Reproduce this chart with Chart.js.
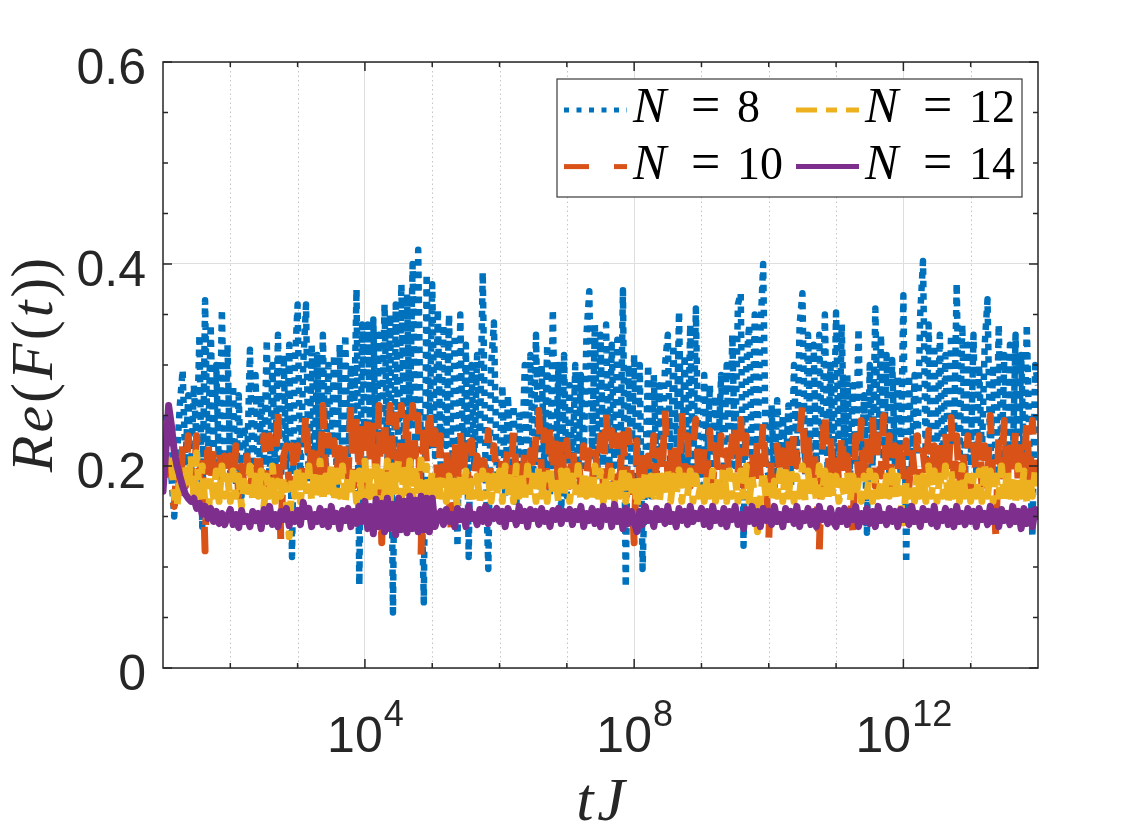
<!DOCTYPE html>
<html>
<head>
<meta charset="utf-8">
<title>Re(F(t)) vs tJ</title>
<script src="https://cdn.jsdelivr.net/npm/chart.js@4.4.1/dist/chart.umd.min.js"></script>
<style>
    html, body { margin: 0; padding: 0; background: #fff; }
    #wrap { width: 1146px; height: 834px; }
</style>
</head>
<body>
<div id="wrap"><canvas id="chart" width="1146" height="834"></canvas></div>
<script>
// sampling grid: logspace(1, 14, 313), 24 samples per decade
const tJ = Array.from({ length: 313 }, (_, i) => 10 ** (1 + i / 24));

// Re(F(t)), one row per decade (10^1 .. 10^14)
const reN8 = [
    .25, .23, .22, .19, .15, .21, .26, .295, .2, .27, .19, .28, .22, .33, .14, .364, .2, .34, .21, .30, .19, .355, .2, .32,
    .19, .28, .18, .27, .17, .24, .2, .315, .18, .29, .17, .27, .2, .325, .18, .3, .19, .33, .17, .31, .2, .32, .11, .3,
    .36, .18, .3, .36, .17, .32, .2, .31, .18, .33, .19, .3, .21, .31, .18, .32, .2, .33, .19, .3, .22, .375, .082, .34,
    .2, .34, .21, .345, .19, .33, .22, .36, .2, .35, .055, .36, .21, .38, .22, .37, .24, .40, .21, .414, .2, .065, .39, .22,
    .38, .21, .355, .2, .34, .22, .35, .18, .33, .12, .35, .2, .32, .11, .3, .2, .31, .22, .392, .2, .098, .3, .342, .19,
    .2, .28, .17, .27, .19, .26, .16, .25, .2, .3, .17, .31, .19, .33, .18, .3, .2, .32, .17, .355, .19, .3, .15, .31,
    .17, .28, .19, .3, .18, .29, .2, .33, .373, .21, .34, .19, .33, .2, .34, .18, .32, .2, .325, .19, .374, .08, .3, .2,
    .31, .19, .3, .098, .2, .3, .17, .29, .19, .28, .2, .3, .33, .18, .32, .2, .353, .19, .31, .2, .34, .18, .356, .19,
    .18, .29, .2, .28, .19, .27, .21, .29, .2, .3, .19, .33, .2, .36, .371, .121, .3, .34, .2, .35, .22, .33, .4, .2,
    .19, .26, .18, .265, .2, .25, .19, .26, .18, .3, .2, .34, .371, .19, .33, .2, .32, .19, .33, .21, .35, .19, .3, .2,
    .352, .2, .34, .21, .29, .19, .28, .2, .336, .19, .27, .134, .3, .2, .356, .21, .33, .2, .31, .19, .305, .2, .29, .19,
    .369, .104, .29, .2, .29, .21, .35, .403, .2, .34, .19, .32, .21, .33, .19, .31, .2, .33, .22, .381, .2, .34, .19, .32,
    .2, .33, .19, .3, .21, .32, .365, .2, .3, .19, .34, .2, .31, .19, .32, .2, .33, .19, .31, .2, .34, .21, .13, .3, .28
];
const reN10 = [
    .21, .2, .2, .17, .16, .2, .17, .22, .18, .23, .2, .18, .23, .19, .21, .116, .23, .18, .22, .19, .22, .18, .21, .19,
    .21, .18, .22, .17, .2, .18, .21, .17, .2, .18, .22, .19, .23, .18, .23, .19, .18, .26, .125, .21, .22, .18, .22, .19,
    .22, .18, .21, .255, .19, .22, .17, .22, .18, .26, .19, .23, .18, .225, .19, .23, .18, .22, .19, .26, .18, .25, .19, .245,
    .18, .25, .2, .245, .18, .26, .124, .25, .19, .26, .21, .25, .18, .26, .2, .255, .19, .26, .21, .25, .11, .245, .2, .26,
    .21, .235, .18, .23, .19, .22, .17, .127, .23, .18, .235, .19, .22, .18, .225, .19, .21, .18, .22, .19, .235, .18, .22, .19,
    .18, .21, .19, .22, .18, .235, .19, .21, .17, .22, .18, .215, .19, .23, .255, .19, .235, .18, .245, .19, .23, .18, .23, .19,
    .225, .18, .22, .19, .21, .18, .22, .19, .215, .18, .22, .19, .23, .18, .256, .19, .235, .18, .23, .19, .235, .18, .235, .19,
    .124, .225, .19, .22, .18, .21, .19, .23, .18, .215, .19, .255, .19, .22, .18, .23, .19, .257, .19, .23, .18, .22, .246, .19,
    .18, .22, .19, .235, .18, .22, .19, .23, .18, .215, .19, .23, .246, .19, .246, .18, .23, .19, .22, .18, .23, .19, .245, .19,
    .127, .21, .18, .22, .19, .215, .18, .23, .19, .235, .2, .23, .26, .19, .235, .18, .22, .19, .114, .21, .256, .19, .23, .18,
    .22, .18, .235, .19, .21, .18, .134, .23, .19, .245, .18, .235, .19, .25, .18, .23, .19, .25, .19, .23, .18, .22, .19, .23,
    .19, .225, .18, .22, .19, .23, .18, .215, .19, .235, .18, .22, .19, .23, .18, .235, .19, .248, .19, .23, .18, .22, .19, .23,
    .18, .22, .19, .23, .18, .22, .19, .25, .18, .13, .23, .19, .245, .18, .23, .19, .235, .18, .23, .19, .245, .18, .245, .19, .21
];
const reN12 = [
    .245, .21, .2, .205, .17, .16, .19, .17, .2, .18, .21, .17, .213, .17, .2, .16, .143, .19, .17, .195, .165, .2, .17, .19,
    .165, .195, .17, .19, .16, .185, .17, .2, .165, .19, .17, .195, .16, .19, .17, .2, .165, .185, .17, .19, .165, .13, .19, .17,
    .2, .165, .19, .17, .2, .165, .195, .17, .205, .165, .19, .175, .2, .165, .195, .17, .2, .165, .19, .17, .2, .165, .195, .17,
    .205, .165, .2, .17, .206, .164, .2, .17, .205, .165, .2, .175, .206, .165, .2, .17, .205, .164, .2, .17, .206, .165, .2, .17,
    .195, .165, .19, .17, .185, .165, .19, .17, .185, .16, .19, .17, .195, .165, .185, .17, .19, .165, .195, .17, .19, .165, .19, .17,
    .195, .165, .2, .17, .195, .165, .2, .17, .195, .165, .2, .17, .19, .165, .2, .17, .195, .165, .2, .17, .19, .165, .195, .17,
    .195, .165, .19, .17, .2, .165, .195, .17, .19, .165, .2, .17, .195, .165, .19, .17, .195, .165, .19, .17, .2, .165, .19, .17,
    .19, .16, .185, .17, .195, .165, .19, .17, .196, .165, .19, .17, .195, .165, .19, .17, .196, .165, .19, .17, .195, .165, .19, .17,
    .185, .165, .19, .17, .195, .165, .19, .17, .2, .165, .195, .17, .19, .165, .195, .17, .2, .165, .19, .17, .135, .165, .195, .17,
    .18, .165, .185, .17, .195, .165, .2, .17, .195, .165, .19, .17, .2, .165, .195, .17, .19, .165, .2, .17, .195, .165, .19, .17,
    .19, .165, .185, .17, .195, .165, .19, .17, .185, .165, .19, .17, .195, .165, .19, .17, .185, .165, .19, .17, .195, .165, .19, .17,
    .137, .185, .17, .18, .165, .195, .17, .19, .165, .2, .17, .195, .165, .19, .17, .2, .165, .195, .17, .19, .165, .2, .17, .19,
    .165, .19, .17, .195, .165, .2, .17, .195, .165, .19, .17, .2, .165, .195, .17, .19, .165, .2, .17, .195, .165, .19, .17, .195, .18
];
const reN14 = [
    .175, .215, .26, .24, .215, .2, .19, .18, .172, .168, .165, .168, .158, .163, .152, .16, .148, .158, .145, .155, .143, .153, .142, .15,
    .157, .142, .152, .139, .156, .145, .15, .14, .155, .146, .153, .138, .157, .145, .16, .142, .152, .14, .155, .147, .158, .141, .152, .145,
    .156, .142, .164, .15, .158, .14, .152, .145, .158, .142, .155, .14, .16, .145, .153, .138, .156, .146, .158, .14, .155, .143, .16, .145,
    .165, .138, .16, .133, .167, .14, .163, .135, .168, .138, .162, .132, .168, .137, .165, .134, .17, .138, .166, .135, .17, .137, .168, .135,
    .168, .14, .15, .155, .142, .157, .145, .152, .14, .158, .147, .155, .14, .16, .148, .152, .142, .157, .145, .16, .143, .155, .148, .158,
    .145, .155, .14, .158, .148, .153, .142, .16, .146, .155, .14, .157, .148, .155, .142, .158, .145, .153, .14, .156, .147, .158, .143, .155,
    .148, .157, .142, .155, .147, .16, .14, .153, .146, .158, .143, .155, .14, .16, .147, .156, .14, .162, .145, .155, .138, .158, .143, .155,
    .145, .135, .155, .142, .16, .146, .153, .14, .158, .147, .155, .143, .16, .145, .152, .14, .158, .146, .155, .142, .16, .145, .153, .148,
    .158, .142, .155, .14, .16, .146, .153, .143, .158, .14, .155, .147, .16, .142, .152, .138, .157, .145, .16, .143, .155, .14, .158, .146,
    .155, .142, .16, .145, .152, .14, .158, .147, .155, .143, .16, .14, .153, .146, .158, .142, .155, .14, .16, .147, .153, .143, .158, .145,
    .14, .156, .145, .158, .142, .155, .147, .16, .14, .153, .145, .158, .143, .155, .14, .16, .146, .152, .142, .158, .145, .155, .14, .157,
    .147, .155, .142, .16, .145, .153, .14, .158, .147, .155, .143, .16, .14, .152, .146, .158, .142, .155, .14, .16, .145, .153, .142, .158,
    .145, .155, .14, .158, .147, .153, .142, .16, .145, .155, .14, .157, .146, .153, .142, .16, .145, .155, .138, .158, .143, .155, .14, .157, .15
];
const sizes = [8, 10, 12, 14];

// axis ticks
const xMajor = [1e4, 1e8, 1e12];
const xMinor = [1e2, 1e3, 1e5, 1e6, 1e7, 1e9, 1e10, 1e11, 1e13];
const yMajor = [0, 0.2, 0.4, 0.6];
const yLabels = ['0', '0.2', '0.4', '0.6'];
const yMinor = [0.05, 0.1, 0.15, 0.25, 0.3, 0.35, 0.45, 0.5, 0.55];

const AXIS = '#262626';
const SANS = '"Liberation Sans", Arial, sans-serif';
const SERIF = '"Liberation Serif", "Times New Roman", serif';

const styles = [
    { color: '#0072BD', width: 6.5, dash: [6.5, 6], key: [5, 7.5] },
    { color: '#D95319', width: 7, dash: [25, 25], key: [25, 25] },
    { color: '#EDB120', width: 7, dash: [21, 9, 11, 9], key: [21, 9, 11, 9] },
    { color: '#7E2F8E', width: 7, dash: [], key: [] }
];

// draws text pieces left to right, each with its own font
const drawParts = (ctx, parts, x, y, gap) => {
    parts.forEach(([txt, font]) => {
        ctx.font = font;
        ctx.fillText(txt, x, y);
        x += ctx.measureText(txt).width + gap;
    });
};
const partsWidth = (ctx, parts, gap) => parts.reduce((w, [txt, font]) => {
    ctx.font = font;
    return w + ctx.measureText(txt).width;
}, 0) + gap * (parts.length - 1);

const matlabAxes = {
    id: 'matlabAxes',
    beforeDatasetsDraw(chart) {
        const { ctx, chartArea: a, scales: { x } } = chart;
        ctx.save();
        ctx.strokeStyle = '#c4c4c4';
        ctx.lineWidth = 1;
        ctx.setLineDash([1.5, 3]);
        xMinor.forEach(v => {
            const px = Math.round(x.getPixelForValue(v)) + 0.5;
            ctx.beginPath();
            ctx.moveTo(px, a.top);
            ctx.lineTo(px, a.bottom);
            ctx.stroke();
        });
        ctx.restore();
    },
    afterDatasetsDraw(chart) {
        const { ctx, chartArea: a, scales: { x, y } } = chart;
        const seg = (x1, y1, x2, y2) => {
            ctx.beginPath();
            ctx.moveTo(x1, y1);
            ctx.lineTo(x2, y2);
            ctx.stroke();
        };
        ctx.save();
        ctx.strokeStyle = AXIS;
        ctx.lineWidth = 1.5;

        // inward ticks on all four sides
        [...xMajor.map(v => [v, 9]), ...xMinor.map(v => [v, 5])].forEach(([v, len]) => {
            const px = x.getPixelForValue(v);
            seg(px, a.bottom, px, a.bottom - len);
            seg(px, a.top, px, a.top + len);
        });
        [...yMajor.map(v => [v, 9]), ...yMinor.map(v => [v, 5])].forEach(([v, len]) => {
            const py = y.getPixelForValue(v);
            seg(a.left, py, a.left + len, py);
            seg(a.right, py, a.right - len, py);
        });
        ctx.strokeRect(a.left, a.top, a.right - a.left, a.bottom - a.top);

        // tick labels
        ctx.fillStyle = AXIS;
        ctx.textBaseline = 'alphabetic';
        ctx.font = `50px ${SANS}`;
        ctx.textAlign = 'right';
        yMajor.forEach((v, i) => ctx.fillText(yLabels[i], a.left - 17, y.getPixelForValue(v) + 22));

        ctx.textAlign = 'left';
        xMajor.forEach(v => {
            const exp = String(Math.round(Math.log10(v)));
            ctx.font = `50px ${SANS}`;
            const wb = ctx.measureText('10').width;
            ctx.font = `36px ${SANS}`;
            const we = ctx.measureText(exp).width;
            const left = x.getPixelForValue(v) - (wb + we) / 2;
            ctx.font = `50px ${SANS}`;
            ctx.fillText('10', left, a.bottom + 84);
            ctx.font = `36px ${SANS}`;
            ctx.fillText(exp, left + wb + 1, a.bottom + 58);
        });

        // axis titles
        const it = `italic 60px ${SERIF}`;
        const up = `60px ${SERIF}`;
        const yTitle = [['R', it], ['e', it], ['(', up], ['F', it], ['(', up], ['t', it], ['))', up]];
        ctx.save();
        ctx.translate(a.left - 111, (a.top + a.bottom) / 2);
        ctx.rotate(-Math.PI / 2);
        drawParts(ctx, yTitle, -partsWidth(ctx, yTitle, 3) / 2, 0, 3);
        ctx.restore();

        const xTitle = [['t', `italic 62px ${SERIF}`], ['J', `italic 62px ${SERIF}`]];
        drawParts(ctx, xTitle, (a.left + a.right) / 2 - partsWidth(ctx, xTitle, 4) / 2, a.bottom + 152, 4);

        // legend box, two columns
        const box = { left: a.right - 481, top: a.top + 17, w: 465, h: 118 };
        ctx.fillStyle = '#fff';
        ctx.fillRect(box.left, box.top, box.w, box.h);
        ctx.strokeStyle = '#3a3a3a';
        ctx.lineWidth = 1.2;
        ctx.strokeRect(box.left, box.top, box.w, box.h);

        chart.data.datasets.forEach((ds, i) => {
            const col = Math.floor(i / 2);
            const row = i % 2;
            const base = box.top + 43 + row * 56.6;
            const sx = box.left + 7 + col * 232;
            ctx.save();
            ctx.strokeStyle = ds.borderColor;
            ctx.lineWidth = 5;
            ctx.setLineDash(styles[i].key);
            ctx.lineCap = 'butt';
            seg(sx, base - 12, sx + 63, base - 12);
            ctx.restore();

            const tx = sx + 69;
            ctx.fillStyle = '#000';
            ctx.font = `italic 50px ${SERIF}`;
            ctx.fillText('N', tx, base);
            ctx.font = `52px ${SERIF}`;
            ctx.fillText('=', tx + 58, base);
            ctx.font = `46px ${SERIF}`;
            ctx.fillText(String(sizes[i]), tx + 104, base);
        });
        ctx.restore();
    }
};

const datasets = [reN8, reN10, reN12, reN14].map((vals, k) => ({
    label: `N = ${sizes[k]}`,
    data: vals.map((v, i) => ({ x: tJ[i], y: v })),
    borderColor: styles[k].color,
    borderWidth: styles[k].width,
    borderDash: styles[k].dash,
    borderCapStyle: k === 3 ? 'round' : 'butt',
    borderJoinStyle: 'round',
    pointRadius: 0,
    tension: 0,
    fill: false,
    order: 4 - k   // N = 14 ends up on top
}));

new Chart(document.getElementById('chart'), {
    type: 'line',
    data: { datasets },
    options: {
        responsive: false,
        animation: false,
        devicePixelRatio: 1,
        layout: { padding: { left: 163, top: 62, right: 108, bottom: 166 } },
        scales: {
            x: {
                type: 'logarithmic',
                min: 10,
                max: 1e14,
                afterBuildTicks: axis => { axis.ticks = xMajor.map(value => ({ value })); },
                ticks: { display: false },
                grid: { color: '#dedede', lineWidth: 1, drawTicks: false },
                border: { display: false }
            },
            y: {
                type: 'linear',
                min: 0,
                max: 0.6,
                afterBuildTicks: axis => { axis.ticks = yMajor.map(value => ({ value })); },
                ticks: { display: false },
                grid: { color: '#dedede', lineWidth: 1, drawTicks: false },
                border: { display: false }
            }
        },
        plugins: {
            legend: { display: false },
            tooltip: { enabled: false }
        }
    },
    plugins: [matlabAxes]
});
</script>
</body>
</html>
